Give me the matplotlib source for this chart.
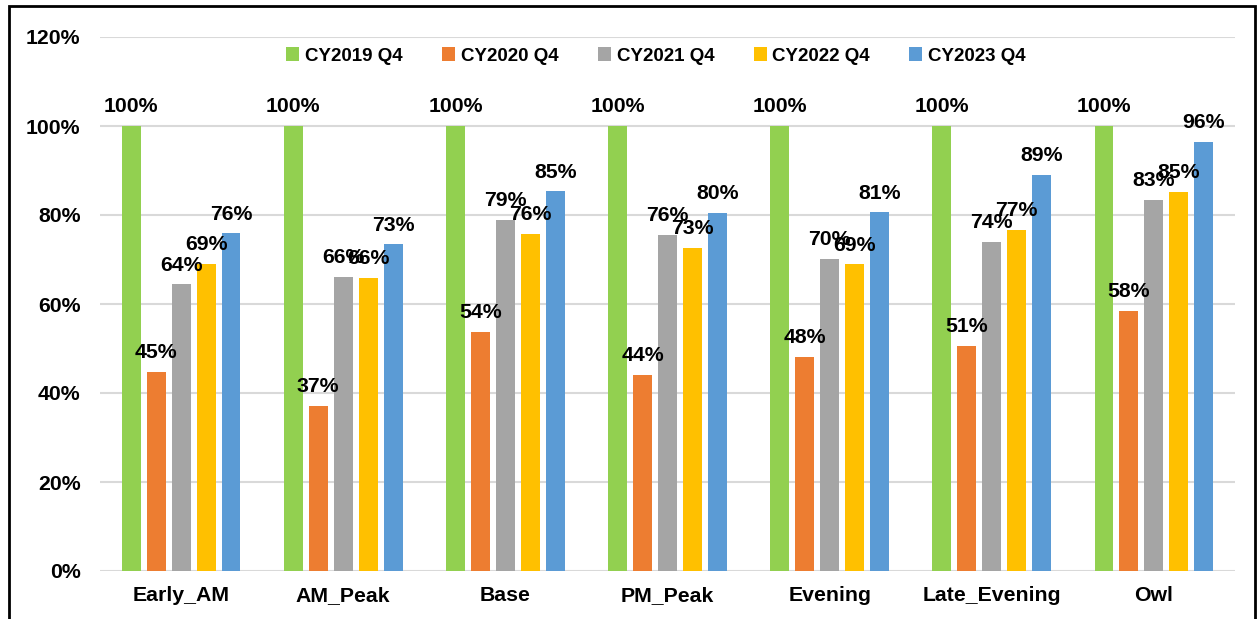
import numpy as np
import matplotlib.pyplot as plt
from matplotlib.patches import Rectangle

plt.rcParams['font.family'] = ['Liberation Sans', 'DejaVu Sans']
plt.rcParams['font.weight'] = 'bold'

periods = ['Early_AM', 'AM_Peak', 'Base', 'PM_Peak', 'Evening', 'Late_Evening', 'Owl']
series = ['CY2019 Q4', 'CY2020 Q4', 'CY2021 Q4', 'CY2022 Q4', 'CY2023 Q4']
cy2019 = [100, 100, 100, 100, 100, 100, 100]
cy2020 = [44.8, 37.1, 53.7, 44.0, 48.1, 50.6, 58.4]
cy2021 = [64.4, 66.1, 78.9, 75.6, 70.1, 73.9, 83.4]
cy2022 = [69.1, 65.9, 75.8, 72.6, 68.9, 76.6, 85.2]
cy2023 = [75.9, 73.4, 85.3, 80.4, 80.6, 89.0, 96.4]
colors = ['#92D050', '#ED7D31', '#A5A5A5', '#FFC000', '#5B9BD5']

fig = plt.figure(figsize=(12.59, 6.19), dpi=100)
ax = fig.add_axes([100/1259, 1 - 571/619, 1135/1259, 534/619])

x = np.arange(len(periods))
pitch = 0.154
width = 0.117
for i, vals in enumerate([cy2019, cy2020, cy2021, cy2022, cy2023]):
    pos = x + (i - 2) * pitch
    bars = ax.bar(pos, np.array(vals) / 100, width, color=colors[i], label=series[i], zorder=3)
    for b, v in zip(bars, vals):
        ax.annotate('%d%%' % round(v), (b.get_x() + b.get_width() / 2, b.get_height()),
                    xytext=(0, 7), textcoords='offset points', ha='center', va='bottom',
                    fontsize=15.3, fontweight='bold', zorder=4)

ax.set_ylim(0, 1.2)
ax.set_xlim(-0.5, 6.5)
ax.set_yticks(np.arange(0, 1.21, 0.2))
ax.set_yticklabels(['%d%%' % v for v in range(0, 121, 20)])
ax.set_xticks(x)
ax.set_xticklabels(periods)
ax.tick_params(axis='both', length=0, labelsize=15.3)
ax.tick_params(axis='y', pad=14)
ax.tick_params(axis='x', pad=11)
ax.grid(axis='y', color='#d9d9d9', linewidth=1.5, zorder=0)
for s in ax.spines.values():
    s.set_visible(False)

ax.legend(loc='center', bbox_to_anchor=(656/1259, 1 - 56/619), bbox_transform=fig.transFigure,
          ncol=5, frameon=False, fontsize=13.5, handlelength=0.7, handleheight=0.7,
          handletextpad=0.3, columnspacing=2.1)

# outer frame of the screenshot
fig.patches.append(Rectangle((8.5/1259, -0.05), 1246/1259, 1.05 - 6/619, transform=fig.transFigure,
                             fill=False, edgecolor='black', linewidth=2))

fig.savefig('out.png', dpi=100)
